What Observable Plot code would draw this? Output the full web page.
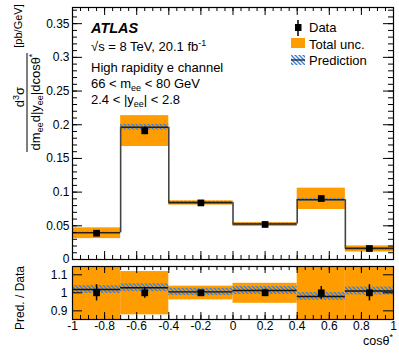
<!DOCTYPE html>
<html><head><meta charset="utf-8">
<script src="https://cdn.jsdelivr.net/npm/d3@7"></script>
<script src="https://cdn.jsdelivr.net/npm/@observablehq/plot@0.6"></script>
<style>
body{margin:0;background:#fff;}
#wrap{position:relative;width:399px;height:353px;font-family:"Liberation Sans",Arial,sans-serif;overflow:hidden;}
#wrap > svg{position:absolute;left:0;}
</style></head><body><div id="wrap"></div>
<script>
// ---- data ----
const binLo = [-1, -0.7, -0.4, 0, 0.4, 0.7];
const binHi = [-0.7, -0.4, 0, 0.4, 0.7, 1];
const dataVal = [0.039, 0.191, 0.084, 0.052, 0.0905, 0.0163];
const dataErrRel = [0.045, 0.03, 0.015, 0.02, 0.035, 0.045];
const ratioPred = [1.018, 1.028, 1.005, 1.013, 0.980, 1.010];
const predUncRel = [0.022, 0.022, 0.02, 0.022, 0.022, 0.022];
const totUncLo = [0.795, 0.878, 0.961, 0.942, 0.82, 0.68];
const totUncHi = [1.205, 1.118, 1.037, 1.053, 1.17, 1.24];
const xTicks = [-1, -0.8, -0.6, -0.4, -0.2, 0, 0.2, 0.4, 0.6, 0.8, 1];
const xTickLabels = ["-1", "-0.8", "-0.6", "-0.4", "-0.2", "0", "0.2", "0.4", "0.6", "0.8", "1"];
const yTicksMain = [0, 0.05, 0.1, 0.15, 0.2, 0.25, 0.3, 0.35];
const yTickLabelsMain = ["0", "0.05", "0.1", "0.15", "0.2", "0.25", "0.3", "0.35"];
const yTicksRatio = [0.9, 1, 1.1];
const yTickLabelsRatio = ["0.9", "1", "1.1"];

const ORANGE = "#ff9c00";
const BLUE = "#3a7fdc";

const bins = binLo.map((lo, i) => {
  const pred = dataVal[i] * ratioPred[i];
  return {
    lo, hi: binHi[i], mid: (lo + binHi[i]) / 2,
    data: dataVal[i], err: dataVal[i] * dataErrRel[i],
    pred, predLo: pred * (1 - predUncRel[i]), predHi: pred * (1 + predUncRel[i]),
    totLo: dataVal[i] * totUncLo[i], totHi: dataVal[i] * totUncHi[i],
    r: ratioPred[i], rLo: ratioPred[i] - predUncRel[i], rHi: ratioPred[i] + predUncRel[i],
    rErr: dataErrRel[i], rtLo: totUncLo[i], rtHi: totUncHi[i]
  };
});
const steps = bins.slice(0, -1).map((b, i) => ({x: b.hi, a: b.pred, b: bins[i + 1].pred}));

const W = 399;
const mL = 72, mR = 6;
const xDom = [-1, 1];
const font = '"Liberation Sans", Arial, sans-serif';

function defs(id) {
  return () => {
    const ns = "http://www.w3.org/2000/svg";
    const d = document.createElementNS(ns, "defs");
    const p = document.createElementNS(ns, "pattern");
    p.setAttribute("id", id);
    p.setAttribute("patternUnits", "userSpaceOnUse");
    p.setAttribute("width", 4);
    p.setAttribute("height", 4);
    const path = document.createElementNS(ns, "path");
    path.setAttribute("d", "M-1,-1L5,5M-1,3L1,5M3,-1L5,1");
    path.setAttribute("stroke", BLUE);
    path.setAttribute("stroke-width", 1.4);
    p.appendChild(path);
    d.appendChild(p);
    return d;
  };
}

function ticks(yDom, pxX, pxY, xMaj, xMin, yMaj, yMin) {
  const [x0, x1] = xDom, [y0, y1] = yDom;
  const m = [];
  const ax = l => l / pxX, ay = l => l / pxY;
  const xMinor = d3.range(-1, 1.0001, 0.05);
  for (const [arr, len] of [[xMinor, xMin], [xTicks, xMaj]]) {
    m.push(Plot.ruleX(arr, {x: d => d, y1: y0, y2: y0 + ay(len), stroke: "black", strokeWidth: 1}));
    m.push(Plot.ruleX(arr, {x: d => d, y1: y1, y2: y1 - ay(len), stroke: "black", strokeWidth: 1}));
  }
  for (const [arr, len] of yMin ? [[yMin, yMin.len], [yMaj, yMaj.len]] : [[yMaj, yMaj.len]]) {
    m.push(Plot.ruleY(arr, {y: d => d, x1: x0, x2: x0 + ax(len), stroke: "black", strokeWidth: 1}));
    m.push(Plot.ruleY(arr, {y: d => d, x1: x1, x2: x1 - ax(len), stroke: "black", strokeWidth: 1}));
  }
  return m;
}

// ---- main panel ----
const mainH = 262, mTop = 7, mBot = 3;
const yDomMain = [0, 0.374];
const pxXm = (W - mL - mR) / 2;
const pxYm = (mainH - mTop - mBot) / (yDomMain[1] - yDomMain[0]);
const yMajM = yTicksMain.slice(); yMajM.len = 10;
const yMinM = d3.range(0, 0.372, 0.01); yMinM.len = 5;

const main = Plot.plot({
  width: W, height: mainH,
  marginLeft: mL, marginRight: mR, marginTop: mTop, marginBottom: mBot,
  style: {fontFamily: font, fontSize: "12px", background: "transparent"},
  x: {domain: xDom, axis: null},
  y: {domain: yDomMain, axis: null},
  marks: [
    defs("hatchM"),
    Plot.rect(bins, {x1: "lo", x2: "hi", y1: "totLo", y2: "totHi", fill: ORANGE}),
    Plot.rect(bins, {x1: "lo", x2: "hi", y1: "predLo", y2: "predHi", fill: "url(#hatchM)"}),
    Plot.ruleY(bins, {x1: "lo", x2: "hi", y: "pred", stroke: "#222", strokeWidth: 1.6}),
    Plot.ruleX(steps, {x: "x", y1: "a", y2: "b", stroke: "#444", strokeWidth: 1.6}),
    Plot.ruleX(bins, {x: "mid", y1: d => d.data - d.err, y2: d => d.data + d.err, stroke: "black", strokeWidth: 1.5}),
    Plot.dot(bins, {x: "mid", y: "data", symbol: "square", r: 3.8, fill: "black", stroke: "none"}),
    ...ticks(yDomMain, pxXm, pxYm, 8, 4, yMajM, yMinM),
    Plot.frame({stroke: "black", strokeWidth: 1.2}),
    Plot.text(yTicksMain, {x: xDom[0], y: d => d, text: (d, i) => yTickLabelsMain[i], dx: -3, textAnchor: "end", fontSize: 12, fill: "black"})
  ]
});
main.style.top = "0px";
main.style.overflow = "visible";

// ---- ratio panel ----
const rTopPos = 262;
const rH = 91, rTop = 4, rBot = 34;
const yDomR = [0.852, 1.146];
const pxYr = (rH - rTop - rBot) / (yDomR[1] - yDomR[0]);
const yMajR = yTicksRatio.slice(); yMajR.len = 10;

const ratio = Plot.plot({
  width: W, height: rH,
  marginLeft: mL, marginRight: mR, marginTop: rTop, marginBottom: rBot,
  style: {fontFamily: font, fontSize: "12px", background: "transparent"},
  x: {domain: xDom, axis: null},
  y: {domain: yDomR, axis: null, clamp: true},
  marks: [
    defs("hatchR"),
    Plot.rect(bins, {x1: "lo", x2: "hi", y1: "rtLo", y2: "rtHi", fill: ORANGE}),
    Plot.rect(bins, {x1: "lo", x2: "hi", y1: "rLo", y2: "rHi", fill: "url(#hatchR)"}),
    Plot.ruleY(bins, {x1: "lo", x2: "hi", y: "r", stroke: "#111", strokeWidth: 1.4}),
    Plot.ruleX(bins, {x: "mid", y1: d => 1 - d.rErr, y2: d => 1 + d.rErr, stroke: "black", strokeWidth: 1.5}),
    Plot.dot(bins, {x: "mid", y: () => 1, symbol: "square", r: 3.8, fill: "black", stroke: "none"}),
    ...ticks(yDomR, pxXm, pxYr, 7, 4, yMajR, null),
    Plot.frame({stroke: "black", strokeWidth: 1.2}),
    Plot.text(yTicksRatio, {x: xDom[0], y: d => d, text: (d, i) => yTickLabelsRatio[i], dx: -5, textAnchor: "end", fontSize: 12, fill: "black"}),
    Plot.text(xTicks, {x: d => d, frameAnchor: "bottom", text: (d, i) => xTickLabels[i], dy: 7, lineAnchor: "middle", fontSize: 12, fill: "black"})
  ]
});
ratio.style.top = rTopPos + "px";
ratio.style.overflow = "visible";

const wrap = document.getElementById("wrap");
wrap.appendChild(main);
wrap.appendChild(ratio);

// ---- overlay text (titles, legend, axis titles) ----
const ov = document.createElementNS("http://www.w3.org/2000/svg", "svg");
ov.setAttribute("width", W); ov.setAttribute("height", 353);
ov.style.top = "0px";
ov.style.pointerEvents = "none";
ov.setAttribute("font-family", font);
ov.innerHTML = `
  <text x="91" y="33" font-size="14.5" font-weight="bold" font-style="italic">ATLAS</text>
  <text x="91" y="51" font-size="13">√s = 8 TeV, 20.1 fb<tspan dy="-5" font-size="9">-1</tspan></text>
  <text x="91" y="72" font-size="13">High rapidity e channel</text>
  <text x="91" y="88" font-size="13">66 &lt; m<tspan dy="3" font-size="9">ee</tspan><tspan dy="-3"> &lt; 80 GeV</tspan></text>
  <text x="91" y="104" font-size="13">2.4 &lt; |y<tspan dy="3" font-size="9">ee</tspan><tspan dy="-3">| &lt; 2.8</tspan></text>

  <line x1="298" x2="298" y1="20" y2="36" stroke="black" stroke-width="1.5"/>
  <rect x="295" y="24" width="6.5" height="7" fill="black"/>
  <text x="309" y="32" font-size="13">Data</text>
  <rect x="291" y="38" width="14" height="10" fill="${ORANGE}"/>
  <text x="309" y="48.5" font-size="13">Total unc.</text>
  <rect x="291" y="55" width="14" height="10" fill="url(#hatchM)"/>
  <line x1="291" x2="305" y1="60" y2="60" stroke="#222" stroke-width="1.3"/>
  <text x="309" y="65" font-size="13">Prediction</text>

  <text x="393" y="345" font-size="12.5" text-anchor="end">cosθ<tspan dy="-5" font-size="9">*</tspan></text>

  <text transform="translate(24,298) rotate(-90)" font-size="12" text-anchor="middle">Pred. / Data</text>

  <text transform="translate(22,26) rotate(-90)" font-size="11" text-anchor="middle">[pb/GeV]</text>
  <text transform="translate(24,97) rotate(-90)" font-size="13" text-anchor="middle">d<tspan dy="-5" font-size="9">3</tspan><tspan dy="5">σ</tspan></text>
  <line x1="27" x2="27" y1="53" y2="152" stroke="black" stroke-width="1"/>
  <text transform="translate(40,102) rotate(-90)" font-size="13" text-anchor="middle">dm<tspan dy="3" font-size="9">ee</tspan><tspan dy="-3">d|y</tspan><tspan dy="3" font-size="9">ee</tspan><tspan dy="-3">|dcosθ</tspan><tspan dy="-5" font-size="9">*</tspan></text>
`;
wrap.appendChild(ov);
</script>
</body></html>
